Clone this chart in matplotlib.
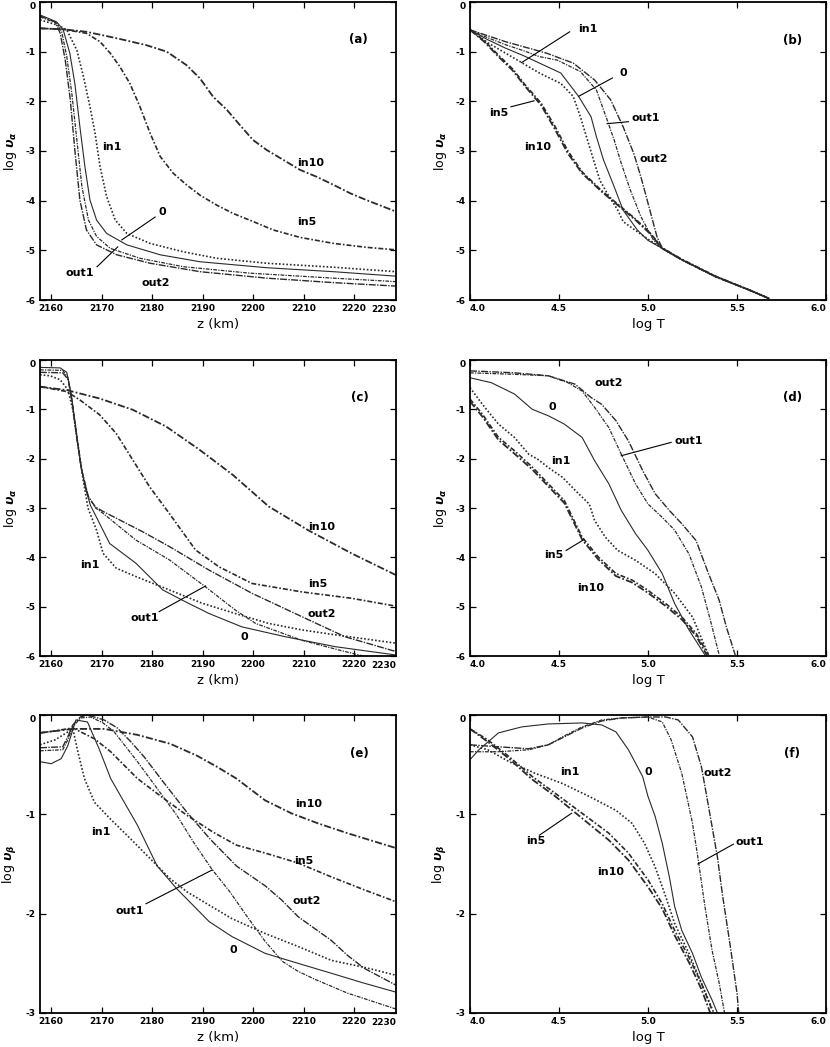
import matplotlib
matplotlib.use("Agg")
import matplotlib.pyplot as plt

plt.rcParams['axes.unicode_minus'] = False
plt.rcParams['font.family'] = 'DejaVu Sans'
plt.rcParams['font.weight'] = 'bold'

# ---- panel (a): log u_alpha vs z, case 1 ----
a_in10_z = [2157.8, 2162.4, 2167.0, 2173.0, 2178.9, 2182.9, 2186.8, 2189.5, 2192.1, 2194.8, 2197.4, 2200.0, 2202.7, 2206.0, 2209.3, 2212.6, 2215.9, 2219.2, 2222.5, 2228.3]
a_in10_v = [-0.53, -0.55, -0.60, -0.73, -0.87, -1.00, -1.27, -1.54, -1.91, -2.17, -2.48, -2.78, -2.98, -3.18, -3.38, -3.52, -3.68, -3.85, -3.99, -4.22]
a_in5_z = [2157.8, 2162.4, 2167.0, 2169.7, 2171.7, 2173.6, 2175.6, 2177.6, 2179.6, 2181.6, 2184.2, 2186.8, 2189.5, 2192.8, 2196.1, 2200.0, 2204.0, 2209.3, 2215.9, 2222.5, 2228.3]
a_in5_v = [-0.53, -0.55, -0.63, -0.80, -1.03, -1.30, -1.64, -2.11, -2.64, -3.11, -3.45, -3.68, -3.89, -4.09, -4.26, -4.42, -4.59, -4.74, -4.86, -4.94, -4.99]
a_in1_z = [2157.8, 2161.1, 2163.1, 2165.1, 2166.4, 2167.7, 2168.7, 2169.7, 2171.0, 2172.7, 2175.0, 2179.6, 2186.2, 2192.8, 2202.7, 2215.9, 2228.3]
a_in1_v = [-0.36, -0.46, -0.56, -0.97, -1.50, -2.11, -2.64, -3.32, -3.92, -4.39, -4.66, -4.86, -5.03, -5.16, -5.26, -5.34, -5.43]
a_0_z = [2157.8, 2161.1, 2162.4, 2163.7, 2164.7, 2165.7, 2166.7, 2167.7, 2169.0, 2171.0, 2175.0, 2181.6, 2189.5, 2202.7, 2215.9, 2228.3]
a_0_v = [-0.26, -0.40, -0.56, -1.03, -1.64, -2.51, -3.32, -3.99, -4.39, -4.66, -4.89, -5.09, -5.23, -5.35, -5.43, -5.52]
a_out1_z = [2157.8, 2161.1, 2162.1, 2163.1, 2164.1, 2165.1, 2166.1, 2167.4, 2169.0, 2171.7, 2177.6, 2186.2, 2199.4, 2215.9, 2228.3]
a_out1_v = [-0.30, -0.43, -0.60, -1.10, -1.84, -2.78, -3.72, -4.39, -4.72, -4.96, -5.16, -5.33, -5.46, -5.56, -5.63]
a_out2_z = [2157.8, 2160.8, 2161.8, 2162.8, 2163.8, 2164.7, 2165.7, 2167.0, 2169.0, 2173.0, 2179.6, 2189.5, 2202.7, 2215.9, 2228.3]
a_out2_v = [-0.28, -0.40, -0.63, -1.17, -1.97, -2.98, -3.99, -4.59, -4.89, -5.09, -5.26, -5.43, -5.56, -5.65, -5.72]

# ---- panel (b): log u_alpha vs log T, case 1 ----
b_in10_T = [4.0, 4.08, 4.16, 4.24, 4.31, 4.40, 4.48, 4.55, 4.63, 4.74, 4.84, 4.93, 5.01, 5.08, 5.19, 5.38, 5.57, 5.68]
b_in10_v = [-0.56, -0.80, -1.10, -1.38, -1.70, -2.08, -2.58, -3.05, -3.45, -3.82, -4.12, -4.39, -4.66, -4.96, -5.19, -5.53, -5.80, -5.97]
b_in5_T = [4.0, 4.08, 4.16, 4.24, 4.31, 4.40, 4.48, 4.55, 4.63, 4.74, 4.84, 4.93, 5.01, 5.08, 5.19, 5.38, 5.57, 5.68]
b_in5_v = [-0.56, -0.78, -1.07, -1.35, -1.67, -2.04, -2.52, -3.00, -3.42, -3.80, -4.10, -4.37, -4.64, -4.95, -5.18, -5.52, -5.80, -5.97]
b_in1_T = [4.0, 4.1, 4.2, 4.29, 4.39, 4.51, 4.58, 4.62, 4.66, 4.70, 4.73, 4.77, 4.83, 4.86, 4.93, 5.01, 5.08, 5.19, 5.38, 5.57, 5.68]
b_in1_v = [-0.56, -0.82, -1.03, -1.22, -1.43, -1.64, -1.90, -2.31, -2.78, -3.25, -3.59, -3.85, -4.19, -4.42, -4.60, -4.80, -4.96, -5.19, -5.53, -5.80, -5.97]
b_0_T = [4.0, 4.1, 4.2, 4.3, 4.39, 4.51, 4.61, 4.68, 4.71, 4.75, 4.81, 4.86, 4.94, 5.0, 5.08, 5.19, 5.38, 5.57, 5.68]
b_0_v = [-0.56, -0.76, -0.93, -1.08, -1.23, -1.43, -1.90, -2.31, -2.71, -3.18, -3.72, -4.19, -4.59, -4.80, -4.96, -5.19, -5.53, -5.80, -5.97]
b_out1_T = [4.0, 4.1, 4.2, 4.3, 4.39, 4.49, 4.62, 4.71, 4.77, 4.81, 4.85, 4.90, 4.96, 5.03, 5.08, 5.19, 5.38, 5.57, 5.68]
b_out1_v = [-0.56, -0.72, -0.86, -0.98, -1.10, -1.17, -1.40, -1.77, -2.37, -2.78, -3.25, -3.78, -4.32, -4.79, -4.96, -5.19, -5.53, -5.80, -5.97]
b_out2_T = [4.0, 4.1, 4.2, 4.3, 4.43, 4.58, 4.70, 4.79, 4.86, 4.92, 4.96, 5.00, 5.05, 5.08, 5.19, 5.38, 5.57, 5.68]
b_out2_v = [-0.56, -0.68, -0.80, -0.90, -1.03, -1.23, -1.57, -1.97, -2.51, -3.05, -3.52, -4.05, -4.72, -4.96, -5.19, -5.53, -5.80, -5.97]

# ---- panel (c): log u_alpha vs z, case 2 ----
c_in10_z = [2157.8, 2163.1, 2169.6, 2176.2, 2182.8, 2189.4, 2196.0, 2203.1, 2210.9, 2219.5, 2228.3]
c_in10_v = [-0.54, -0.61, -0.78, -1.01, -1.35, -1.82, -2.33, -2.97, -3.45, -3.92, -4.36]
c_in5_z = [2157.8, 2163.1, 2165.7, 2169.6, 2172.9, 2176.2, 2179.5, 2183.4, 2188.6, 2193.2, 2199.8, 2209.6, 2219.5, 2228.3]
c_in5_v = [-0.54, -0.64, -0.81, -1.11, -1.49, -2.03, -2.57, -3.11, -3.85, -4.19, -4.53, -4.70, -4.83, -4.99]
c_in1_z = [2157.8, 2159.8, 2161.8, 2163.3, 2164.3, 2165.3, 2166.3, 2167.3, 2169.0, 2170.3, 2172.9, 2176.8, 2183.4, 2189.9, 2196.5, 2203.1, 2209.6, 2216.2, 2228.3]
c_in1_v = [-0.30, -0.32, -0.40, -0.60, -1.00, -1.70, -2.40, -3.00, -3.45, -3.92, -4.22, -4.39, -4.66, -4.93, -5.14, -5.34, -5.47, -5.57, -5.74]
c_0_z = [2157.8, 2161.8, 2163.1, 2164.0, 2164.8, 2165.8, 2166.8, 2167.8, 2168.6, 2171.6, 2176.8, 2182.1, 2186.0, 2191.3, 2197.8, 2206.4, 2216.2, 2228.3]
c_0_v = [-0.15, -0.16, -0.25, -0.70, -1.30, -2.10, -2.60, -2.95, -3.11, -3.72, -4.12, -4.66, -4.87, -5.14, -5.41, -5.61, -5.81, -5.98]
c_out1_z = [2157.8, 2162.3, 2163.3, 2164.1, 2165.0, 2166.0, 2167.3, 2168.8, 2170.3, 2176.8, 2183.4, 2190.6, 2196.5, 2200.5, 2209.6, 2218.2, 2223.8]
c_out1_v = [-0.20, -0.21, -0.35, -0.80, -1.50, -2.20, -2.75, -3.00, -3.11, -3.65, -4.05, -4.60, -5.07, -5.34, -5.68, -5.91, -6.05]
c_out2_z = [2157.8, 2162.3, 2163.4, 2164.2, 2165.1, 2166.1, 2167.4, 2168.8, 2170.3, 2178.1, 2183.4, 2191.3, 2199.8, 2209.6, 2218.2, 2228.3]
c_out2_v = [-0.25, -0.26, -0.40, -0.90, -1.60, -2.25, -2.78, -2.98, -3.07, -3.48, -3.78, -4.26, -4.73, -5.20, -5.61, -5.91]

# ---- panel (d): log u_alpha vs log T, case 2 ----
d_in10_T = [4.0, 4.07, 4.16, 4.25, 4.35, 4.44, 4.53, 4.63, 4.72, 4.82, 4.91, 5.0, 5.10, 5.19, 5.27, 5.33]
d_in10_v = [-0.84, -1.15, -1.62, -1.90, -2.22, -2.56, -2.90, -3.64, -4.04, -4.38, -4.51, -4.72, -4.99, -5.26, -5.59, -5.98]
d_in5_T = [4.0, 4.07, 4.16, 4.25, 4.35, 4.44, 4.53, 4.63, 4.72, 4.82, 4.91, 5.0, 5.10, 5.19, 5.27, 5.34]
d_in5_v = [-0.79, -1.10, -1.57, -1.84, -2.17, -2.51, -2.85, -3.59, -3.99, -4.33, -4.46, -4.67, -4.94, -5.21, -5.54, -5.98]
d_in1_T = [4.0, 4.07, 4.16, 4.25, 4.33, 4.38, 4.44, 4.52, 4.61, 4.67, 4.70, 4.76, 4.83, 4.93, 5.04, 5.15, 5.25, 5.34]
d_in1_v = [-0.56, -0.90, -1.30, -1.57, -1.91, -2.01, -2.18, -2.38, -2.71, -2.92, -3.25, -3.59, -3.86, -4.06, -4.33, -4.73, -5.21, -5.98]
d_0_T = [4.0, 4.12, 4.25, 4.35, 4.44, 4.53, 4.63, 4.70, 4.78, 4.85, 4.93, 5.0, 5.08, 5.15, 5.23, 5.32]
d_0_v = [-0.36, -0.46, -0.69, -1.00, -1.13, -1.30, -1.57, -2.04, -2.51, -3.05, -3.52, -3.86, -4.33, -4.94, -5.47, -5.98]
d_out1_T = [4.0, 4.25, 4.44, 4.55, 4.63, 4.70, 4.78, 4.85, 4.93, 5.0, 5.08, 5.15, 5.23, 5.30, 5.35, 5.40]
d_out1_v = [-0.26, -0.29, -0.32, -0.46, -0.63, -0.96, -1.37, -1.91, -2.51, -2.92, -3.19, -3.45, -3.93, -4.60, -5.27, -5.98]
d_out2_T = [4.0, 4.25, 4.44, 4.59, 4.68, 4.74, 4.82, 4.89, 4.97, 5.04, 5.12, 5.19, 5.27, 5.34, 5.40, 5.44, 5.49]
d_out2_v = [-0.22, -0.26, -0.32, -0.49, -0.76, -0.90, -1.23, -1.64, -2.24, -2.71, -3.05, -3.32, -3.66, -4.33, -4.87, -5.41, -5.98]

# ---- panel (e): log u_beta vs z ----
e_in10_z = [2157.8, 2164.3, 2170.5, 2177.1, 2183.6, 2188.9, 2192.8, 2196.7, 2202.4, 2207.6, 2212.8, 2218.7, 2228.3]
e_in10_v = [-0.18, -0.14, -0.14, -0.20, -0.29, -0.41, -0.52, -0.64, -0.86, -0.99, -1.09, -1.19, -1.34]
e_in5_z = [2157.8, 2160.8, 2164.3, 2168.6, 2171.8, 2177.1, 2182.3, 2186.9, 2192.1, 2196.7, 2202.4, 2208.9, 2215.5, 2222.0, 2228.3]
e_in5_v = [-0.18, -0.16, -0.13, -0.24, -0.37, -0.64, -0.84, -1.01, -1.18, -1.31, -1.39, -1.49, -1.63, -1.76, -1.88]
e_in1_z = [2157.8, 2160.8, 2164.3, 2165.3, 2166.6, 2168.6, 2171.8, 2175.8, 2179.7, 2183.6, 2186.9, 2191.5, 2195.8, 2202.4, 2208.9, 2215.5, 2222.0, 2228.3]
e_in1_v = [-0.30, -0.25, -0.14, -0.37, -0.64, -0.88, -1.05, -1.25, -1.45, -1.65, -1.78, -1.92, -2.05, -2.20, -2.33, -2.47, -2.54, -2.62]
e_0_z = [2157.8, 2160.0, 2162.0, 2163.3, 2164.9, 2167.2, 2169.5, 2171.8, 2174.5, 2177.1, 2179.0, 2181.0, 2184.9, 2188.2, 2191.3, 2195.8, 2202.4, 2208.9, 2215.5, 2222.0, 2228.3]
e_0_v = [-0.47, -0.49, -0.44, -0.31, -0.05, -0.07, -0.34, -0.64, -0.88, -1.11, -1.31, -1.52, -1.75, -1.92, -2.08, -2.23, -2.40, -2.50, -2.60, -2.70, -2.79]
e_out1_z = [2157.8, 2162.3, 2163.3, 2164.3, 2165.8, 2167.8, 2170.3, 2172.5, 2177.1, 2181.0, 2184.9, 2188.2, 2191.8, 2195.4, 2199.1, 2202.4, 2205.8, 2208.9, 2212.2, 2218.7, 2228.3]
e_out1_v = [-0.36, -0.35, -0.25, -0.12, -0.03, -0.02, -0.08, -0.17, -0.47, -0.74, -1.01, -1.28, -1.55, -1.78, -2.05, -2.28, -2.48, -2.58, -2.66, -2.80, -2.96]
e_out2_z = [2157.8, 2162.3, 2163.3, 2164.3, 2165.8, 2167.2, 2170.5, 2173.1, 2175.8, 2178.4, 2182.3, 2186.9, 2191.5, 2196.7, 2202.4, 2205.6, 2208.9, 2215.5, 2218.7, 2222.0, 2228.3]
e_out2_v = [-0.33, -0.32, -0.22, -0.10, -0.02, 0.0, -0.05, -0.13, -0.27, -0.42, -0.68, -0.98, -1.25, -1.52, -1.72, -1.86, -2.03, -2.27, -2.42, -2.55, -2.72]

# ---- panel (f): log u_beta vs log T ----
f_in10_T = [4.0, 4.10, 4.22, 4.35, 4.48, 4.63, 4.78, 4.89, 5.0, 5.08, 5.15, 5.23, 5.30, 5.35]
f_in10_v = [-0.14, -0.27, -0.44, -0.65, -0.82, -1.04, -1.26, -1.46, -1.73, -1.95, -2.22, -2.49, -2.76, -3.0]
f_in5_T = [4.0, 4.10, 4.22, 4.35, 4.48, 4.63, 4.78, 4.89, 5.0, 5.08, 5.15, 5.23, 5.30, 5.36]
f_in5_v = [-0.14, -0.25, -0.42, -0.62, -0.79, -0.99, -1.19, -1.39, -1.66, -1.90, -2.17, -2.44, -2.70, -2.97]
f_in1_T = [4.0, 4.10, 4.22, 4.37, 4.52, 4.67, 4.82, 4.91, 4.98, 5.04, 5.10, 5.15, 5.23, 5.30, 5.37]
f_in1_v = [-0.30, -0.35, -0.47, -0.59, -0.69, -0.82, -0.96, -1.09, -1.29, -1.53, -1.83, -2.10, -2.40, -2.70, -3.0]
f_0_T = [4.0, 4.05, 4.16, 4.29, 4.44, 4.63, 4.74, 4.82, 4.89, 4.97, 5.0, 5.04, 5.08, 5.12, 5.15, 5.19, 5.25, 5.30, 5.36, 5.39]
f_0_v = [-0.45, -0.35, -0.18, -0.12, -0.09, -0.08, -0.10, -0.17, -0.35, -0.62, -0.82, -1.02, -1.29, -1.63, -1.93, -2.17, -2.40, -2.64, -2.87, -3.0]
f_out1_T = [4.0, 4.16, 4.33, 4.44, 4.53, 4.63, 4.74, 4.85, 5.0, 5.08, 5.13, 5.19, 5.25, 5.28, 5.32, 5.36, 5.40, 5.43]
f_out1_v = [-0.37, -0.37, -0.35, -0.30, -0.21, -0.12, -0.05, -0.03, -0.02, -0.07, -0.25, -0.59, -1.09, -1.43, -1.93, -2.37, -2.70, -3.0]
f_out2_T = [4.0, 4.16, 4.33, 4.44, 4.53, 4.63, 4.74, 4.85, 5.0, 5.10, 5.17, 5.25, 5.30, 5.34, 5.39, 5.42, 5.46, 5.50, 5.51]
f_out2_v = [-0.30, -0.32, -0.34, -0.30, -0.22, -0.13, -0.06, -0.03, -0.02, -0.02, -0.05, -0.22, -0.52, -0.92, -1.43, -1.83, -2.30, -2.80, -3.0]

z_ticks = [2160, 2170, 2180, 2190, 2200, 2210, 2220]
t_ticks = [4.0, 4.5, 5.0, 5.5, 6.0]

# curve name labels: (text, x, y) and leader lines ((x0, y0), (x1, y1))
a_labels = [('in1', 2172.1, -2.92), ('in10', 2211.3, -3.24), ('in5', 2210.7, -4.43),
            ('0', 2182.0, -4.23), ('out1', 2165.7, -5.45), ('out2', 2180.8, -5.65)]
a_leaders = [((2180.6, -4.33), (2174.0, -4.79)), ((2169.1, -5.33), (2173.2, -4.93))]
b_labels = [('in1', 4.66, -0.54), ('0', 4.86, -1.43), ('out1', 4.99, -2.34), ('out2', 5.03, -3.16),
            ('in5', 4.16, -2.24), ('in10', 4.38, -2.92)]
b_leaders = [((4.56, -0.60), (4.29, -1.22)), ((4.80, -1.53), (4.61, -1.90)),
             ((4.89, -2.41), (4.77, -2.45)), ((4.23, -2.11), (4.36, -1.99))]
c_labels = [('in10', 2213.5, -3.38), ('in5', 2212.9, -4.54), ('out2', 2213.5, -5.14),
            ('out1', 2178.5, -5.23), ('0', 2198.2, -5.61), ('in1', 2167.6, -4.16)]
c_leaders = [((2181.4, -5.10), (2190.6, -4.58))]
d_labels = [('out2', 4.78, -0.46), ('0', 4.46, -0.96), ('out1', 5.23, -1.64), ('in1', 4.51, -2.04),
            ('in5', 4.47, -3.96), ('in10', 4.68, -4.63)]
d_leaders = [((5.13, -1.67), (4.85, -1.94)), ((4.54, -3.86), (4.64, -3.64))]
e_labels = [('in10', 2210.9, -0.90), ('in5', 2210.1, -1.47), ('in1', 2169.9, -1.18),
            ('out2', 2210.6, -1.87), ('out1', 2175.5, -1.97), ('0', 2196.1, -2.37)]
e_leaders = [((2178.8, -1.90), (2191.9, -1.56))]
f_labels = [('in1', 4.56, -0.57), ('0', 5.0, -0.57), ('out2', 5.39, -0.58), ('out1', 5.57, -1.28),
            ('in5', 4.37, -1.27), ('in10', 4.79, -1.58)]
f_leaders = [((5.48, -1.30), (5.28, -1.50)), ((4.39, -1.21), (4.57, -0.99))]

styles = {
    'in10': dict(ls=(0, (4, 1.2, 1, 1.2)), lw=1.3),
    'in5': dict(ls=(0, (3, 1.2, 1, 1.2)), lw=1.2),
    'in1': dict(ls=(0, (1, 1.2)), lw=1.2),
    '0': dict(ls='-', lw=0.8),
    'out1': dict(ls=(0, (3, 1, 1, 1)), lw=0.9),
    'out2': dict(ls=(0, (5, 1, 1, 1)), lw=1.0),
}
ink = '#2a2a2a'


def draw_panel(ax, curves, labels, leaders, tag, tag_xy, zaxis, ymin, ylabel):
    for name, xs, ys in curves:
        ax.plot(xs, ys, color=ink, **styles[name])
    for txt, x, y in labels:
        ax.text(x, y, txt, fontsize=8, ha='center', va='center')
    for (x0, y0), (x1, y1) in leaders:
        ax.plot([x0, x1], [y0, y1], color='k', lw=0.8)
    ax.text(tag_xy[0], tag_xy[1], tag, fontsize=8.5, ha='center', va='center')

    ax.set_ylim(ymin, 0)
    yt = list(range(0, ymin - 1, -1))
    ax.set_yticks(yt)
    ax.set_yticklabels([str(v) for v in yt])
    ax.get_yticklabels()[0].set_va('top')

    if zaxis:
        # 2230 lies just past the frame; its label is pinned to the right edge
        ax.set_xlim(2157.8, 2228.3)
        ax.set_xticks(z_ticks)
        ax.set_xticklabels([str(v) for v in z_ticks])
        ax.text(1.0, -0.016, '2230', transform=ax.transAxes, ha='right', va='top', fontsize=6.5)
        ax.set_xlabel('z (km)', fontsize=9.5)
    else:
        ax.set_xlim(4.0, 6.0)
        ax.set_xticks(t_ticks)
        ax.set_xticklabels(['%.1f' % v for v in t_ticks])
        ax.get_xticklabels()[0].set_ha('left')
        ax.get_xticklabels()[-1].set_ha('right')
        ax.set_xlabel('log T', fontsize=9.5)
    ax.xaxis.set_label_coords(0.5, -0.062)
    ax.set_ylabel(ylabel, fontsize=9)
    ax.yaxis.set_label_coords(-0.058, 0.5)

    ax.tick_params(direction='in', top=True, right=True, length=4, width=0.9,
                   labelsize=6.5, pad=3)
    for sp in ax.spines.values():
        sp.set_linewidth(1.3)


fig = plt.figure(figsize=(8.3, 10.47), dpi=100)
wl, wr, w = 40 / 830, 470 / 830, 356 / 830
ax_a = fig.add_axes([wl, 1 - 300 / 1047, w, 298 / 1047])
ax_b = fig.add_axes([wr, 1 - 300 / 1047, w, 298 / 1047])
ax_c = fig.add_axes([wl, 1 - 656 / 1047, w, 296 / 1047])
ax_d = fig.add_axes([wr, 1 - 656 / 1047, w, 296 / 1047])
ax_e = fig.add_axes([wl, 1 - 1013 / 1047, w, 298 / 1047])
ax_f = fig.add_axes([wr, 1 - 1013 / 1047, w, 298 / 1047])

ylab_a = r'log $\upsilon_\alpha$'
ylab_b = r'log $\upsilon_\beta$'

draw_panel(ax_a, [('in10', a_in10_z, a_in10_v), ('in5', a_in5_z, a_in5_v), ('in1', a_in1_z, a_in1_v),
                  ('0', a_0_z, a_0_v), ('out1', a_out1_z, a_out1_v), ('out2', a_out2_z, a_out2_v)],
           a_labels, a_leaders, '(a)', (2220.8, -0.76), True, -6, ylab_a)
draw_panel(ax_b, [('in10', b_in10_T, b_in10_v), ('in5', b_in5_T, b_in5_v), ('in1', b_in1_T, b_in1_v),
                  ('0', b_0_T, b_0_v), ('out1', b_out1_T, b_out1_v), ('out2', b_out2_T, b_out2_v)],
           b_labels, b_leaders, '(b)', (5.81, -0.78), False, -6, ylab_a)
draw_panel(ax_c, [('in10', c_in10_z, c_in10_v), ('in5', c_in5_z, c_in5_v), ('in1', c_in1_z, c_in1_v),
                  ('0', c_0_z, c_0_v), ('out1', c_out1_z, c_out1_v), ('out2', c_out2_z, c_out2_v)],
           c_labels, c_leaders, '(c)', (2221.2, -0.75), True, -6, ylab_a)
draw_panel(ax_d, [('in10', d_in10_T, d_in10_v), ('in5', d_in5_T, d_in5_v), ('in1', d_in1_T, d_in1_v),
                  ('0', d_0_T, d_0_v), ('out1', d_out1_T, d_out1_v), ('out2', d_out2_T, d_out2_v)],
           d_labels, d_leaders, '(d)', (5.81, -0.76), False, -6, ylab_a)
draw_panel(ax_e, [('in10', e_in10_z, e_in10_v), ('in5', e_in5_z, e_in5_v), ('in1', e_in1_z, e_in1_v),
                  ('0', e_0_z, e_0_v), ('out1', e_out1_z, e_out1_v), ('out2', e_out2_z, e_out2_v)],
           e_labels, e_leaders, '(e)', (2221.0, -0.39), True, -3, ylab_b)
draw_panel(ax_f, [('in10', f_in10_T, f_in10_v), ('in5', f_in5_T, f_in5_v), ('in1', f_in1_T, f_in1_v),
                  ('0', f_0_T, f_0_v), ('out1', f_out1_T, f_out1_v), ('out2', f_out2_T, f_out2_v)],
           f_labels, f_leaders, '(f)', (5.81, -0.39), False, -3, ylab_b)

fig.savefig('out.png', dpi=100)
